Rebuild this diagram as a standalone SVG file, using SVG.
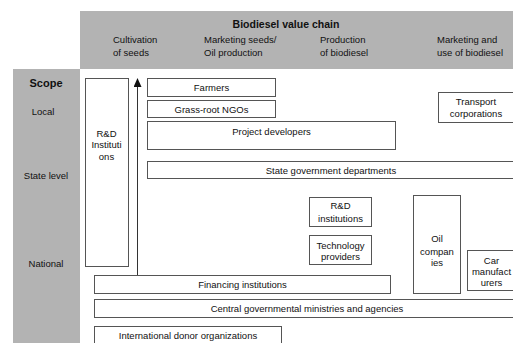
<svg xmlns="http://www.w3.org/2000/svg" width="513" height="343" viewBox="0 0 513 343">
<style>
text{font-family:"Liberation Sans",Arial,sans-serif;fill:#111;font-size:9.5px;text-anchor:middle}
.h{text-anchor:start}
.b{font-weight:bold}
.box{fill:#fff;stroke:#555;stroke-width:1}
.band{fill:#b3b3b3}
</style>
<defs>
<marker id="ah" markerWidth="9" markerHeight="8" refX="8" refY="4" orient="auto" markerUnits="userSpaceOnUse" viewBox="0 0 9 8">
<path d="M0,0 L9,4 L0,8 Z" fill="#111"/>
</marker>
</defs>
<rect width="513" height="343" fill="#fff"/>
<g id="header">
<rect class="band" x="80" y="11" width="433" height="58"/>
<text x="286" y="28" class="b" style="font-size:10.5px">Biodiesel value chain</text>
<text class="h" x="113" y="43">Cultivation</text>
<text class="h" x="113" y="55.5">of seeds</text>
<text class="h" x="204" y="43">Marketing seeds/</text>
<text class="h" x="204" y="55.5">Oil production</text>
<text class="h" x="320" y="43">Production</text>
<text class="h" x="320" y="55.5">of biodiesel</text>
<text class="h" x="437" y="43">Marketing and</text>
<text class="h" x="437" y="55.5">use of biodiesel</text>
</g>
<g id="scope">
<rect class="band" x="13" y="69" width="67" height="274"/>
<text x="46" y="87" class="b" style="font-size:11px">Scope</text>
<text x="43" y="114.5">Local</text>
<text x="46" y="178.5">State level</text>
<text x="46" y="266.5">National</text>
</g>
<g id="connectors">
<line x1="137.5" y1="275" x2="137.5" y2="79" stroke="#333" stroke-width="1" marker-end="url(#ah)"/>
</g>
<g id="rd-left">
<rect class="box" x="85.5" y="78.5" width="43" height="188"/>
<text x="106.5" y="136.5">R&amp;D</text>
<text x="106.5" y="148">Instituti</text>
<text x="106.5" y="159.5">ons</text>
</g>
<g id="farmers">
<rect class="box" x="147.5" y="78.5" width="128" height="18"/>
<text x="211.5" y="91">Farmers</text>
</g>
<g id="ngos">
<rect class="box" x="147.5" y="100.5" width="128" height="17"/>
<text x="211.5" y="112.5">Grass-root NGOs</text>
</g>
<g id="project-developers">
<rect class="box" x="147.5" y="121.5" width="248" height="28"/>
<text x="271.5" y="134.5">Project developers</text>
</g>
<g id="state-gov">
<rect class="box" x="147.5" y="161.5" width="370" height="17"/>
<text x="331" y="173.5">State government departments</text>
</g>
<g id="transport">
<rect class="box" x="438.5" y="92.5" width="80" height="30"/>
<text x="476" y="105">Transport</text>
<text x="476" y="116.5">corporations</text>
</g>
<g id="rd-mid">
<rect class="box" x="309.5" y="197.5" width="62" height="29"/>
<text x="340.5" y="208.5">R&amp;D</text>
<text x="340.5" y="221.5">institutions</text>
</g>
<g id="technology">
<rect class="box" x="309.5" y="235.5" width="62" height="29"/>
<text x="340.5" y="248.5">Technology</text>
<text x="340.5" y="259.5">providers</text>
</g>
<g id="oil">
<rect class="box" x="413.5" y="195.5" width="47" height="98"/>
<text x="437" y="241.5">Oil</text>
<text x="437" y="255">compan</text>
<text x="437" y="265.5">ies</text>
</g>
<g id="car">
<rect class="box" x="467.5" y="250.5" width="52" height="40"/>
<text x="491.5" y="263.5">Car</text>
<text x="491.5" y="274.5">manufact</text>
<text x="491.5" y="286">urers</text>
</g>
<g id="financing">
<rect class="box" x="94.5" y="275.5" width="296" height="18"/>
<text x="242.5" y="287.5">Financing institutions</text>
</g>
<g id="central">
<rect class="box" x="94.5" y="299.5" width="425" height="18"/>
<text x="307" y="311.5">Central governmental ministries and agencies</text>
</g>
<g id="intl-donors">
<rect class="box" x="94.5" y="326.5" width="187" height="25"/>
<text x="188" y="338.5">International donor organizations</text>
</g>
</svg>
